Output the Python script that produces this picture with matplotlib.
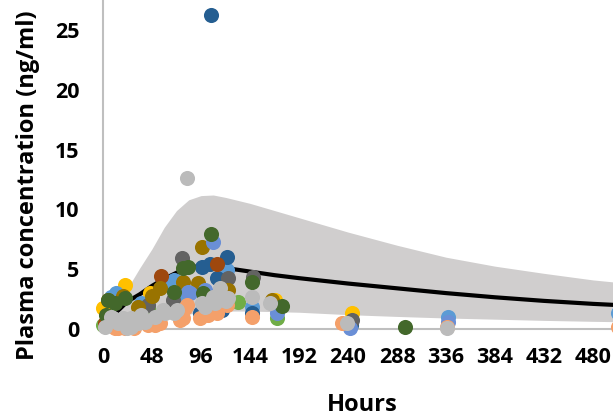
import matplotlib
matplotlib.use("Agg")
import matplotlib.pyplot as plt

plt.rcParams['font.family'] = ['Open Sans', 'DejaVu Sans']
plt.rcParams['font.weight'] = 'bold'

# Simulated profile: time grid, 5th / 50th / 95th percentiles (ng/ml)
t_curve = [0, 6, 12, 24, 36, 48, 60, 72, 84, 96, 108, 120, 144, 168, 192,
           240, 288, 336, 384, 432, 480, 528]
p95 = [0.2, 0.8, 1.6, 3.4, 5.1, 6.7, 8.5, 9.9, 10.8, 11.15, 11.2, 11.0, 10.5,
       9.9, 9.3, 8.1, 7.0, 6.0, 5.25, 4.65, 4.1, 3.7]
p05 = [0.0, 0.05, 0.15, 0.35, 0.55, 0.75, 0.95, 1.1, 1.25, 1.35, 1.45, 1.5,
       1.5, 1.45, 1.4, 1.2, 1.05, 0.92, 0.82, 0.72, 0.64, 0.58]
p50 = [0.0, 0.7, 1.3, 2.3, 2.9, 3.6, 4.2, 4.7, 5.1, 5.3, 5.25, 5.1, 4.8, 4.5,
       4.25, 3.8, 3.4, 3.0, 2.65, 2.35, 2.1, 1.9]

# Observed concentrations, one group per colour (hours, ng/ml)
yellow_t = [21.9, 46, 0, 244, 168, 4]
yellow_c = [3.7, 3.0, 1.75, 1.3, 2.4, 0.9]
blue_t = [12.7, 62, 73, 37, 121, 146, 338, 504, 70, 8]
blue_c = [3.0, 3.9, 2.3, 2.2, 4.9, 1.85, 1.0, 1.3, 4.1, 2.7]
green_t = [132, 170, 0, 45]
green_c = [2.25, 0.9, 0.3, 1.5]
dblue_t = [106, 121, 105, 97, 112, 95, 117, 146, 243, 96]
dblue_c = [26.25, 6.0, 5.4, 5.2, 4.3, 1.35, 1.6, 1.3, 0.3, 1.2]
brown_t = [57, 112, 2]
brown_c = [4.4, 5.4, 0.5]
dgray_t = [77, 122, 147, 44, 244, 69]
dgray_c = [5.9, 4.3, 4.35, 2.0, 0.75, 2.4]
olive_t = [5, 19.6, 34, 56, 97, 78, 93, 122, 166, 48]
olive_c = [2.4, 2.8, 1.8, 3.4, 6.85, 3.9, 3.85, 3.3, 2.4, 2.8]
mblue_t = [108, 85, 83, 170, 242, 338, 100]
mblue_c = [7.3, 3.0, 3.1, 1.3, 0.1, 0.6, 3.3]
dgreen_t = [21.5, 11.8, 3, 106, 83, 70, 98, 146, 175, 296, 78, 5]
dgreen_c = [2.6, 2.2, 1.2, 7.9, 5.2, 3.1, 3.0, 3.9, 1.9, 0.17, 5.1, 2.4]
orange_t = [12, 22, 51, 56, 75, 78, 82, 103, 112, 121, 146, 234, 337, 504,
            30, 95, 15, 44, 52, 80]
orange_c = [0.05, 0.05, 0.3, 0.5, 0.75, 0.9, 2.0, 1.2, 1.35, 2.0, 1.0, 0.5,
            0.15, 0.15, 0.1, 0.9, 0.1, 0.35, 0.75, 1.75]
gray_t = [82, 2, 8, 14.5, 27.7, 34, 41, 51, 61, 70, 72, 97, 108, 115, 122,
          146, 164, 239, 337, 20, 10, 24, 27, 37, 59, 100, 110, 120]
gray_c = [12.6, 0.2, 1.0, 0.5, 0.2, 0.5, 0.6, 1.0, 1.3, 1.3, 1.6, 2.2, 2.7,
          3.4, 2.6, 2.7, 2.2, 0.5, 0.1, 0.9, 0.9, 0.1, 0.9, 1.2, 1.6, 1.85,
          2.2, 2.3]

groups = [
    (yellow_t, yellow_c, '#FFC000'),
    (blue_t, blue_c, '#5B9BD5'),
    (green_t, green_c, '#70AD47'),
    (dblue_t, dblue_c, '#255E91'),
    (brown_t, brown_c, '#9E480E'),
    (dgray_t, dgray_c, '#636363'),
    (olive_t, olive_c, '#997300'),
    (mblue_t, mblue_c, '#6A8FD6'),
    (dgreen_t, dgreen_c, '#43682B'),
    (orange_t, orange_c, '#F4A06A'),
    (gray_t, gray_c, '#BBBBBB'),
]

fig = plt.figure(figsize=(6.13, 4.19), dpi=100)
# axes run past the right edge of the page on purpose
ax = fig.add_axes([0.168, 0.2148, 0.8795, 0.7852])

ax.fill_between(t_curve, p05, p95, color='#D0CECE', linewidth=0, zorder=1)
ax.plot(t_curve, p50, color='black', linewidth=3, zorder=2)

for tt, cc, col in groups:
    ax.scatter(tt, cc, s=118, color=col, linewidths=0, zorder=3,
               clip_on=False)

ax.set_xlim(0, 528)
ax.set_ylim(0, 27.5)
ax.set_xticks(range(0, 529, 48))
ax.set_yticks(range(0, 26, 5))

for side in ['top', 'right']:
    ax.spines[side].set_visible(False)
for side in ['left', 'bottom']:
    ax.spines[side].set_color('#BFBFBF')
    ax.spines[side].set_linewidth(1.5)
    ax.spines[side].set_zorder(0)

ax.tick_params(axis='both', length=0, labelsize=15.5)
ax.tick_params(axis='x', pad=13)
ax.tick_params(axis='y', pad=17)

fig.text(362 / 613, 8 / 419, 'Hours', ha='center', va='baseline',
         fontsize=17, fontweight='bold')
fig.text(28 / 613, 1 - 185 / 419, 'Plasma concentration (ng/ml)',
         rotation=90, ha='center', va='center', fontsize=17,
         fontweight='bold')

fig.savefig('out.png', dpi=100)
